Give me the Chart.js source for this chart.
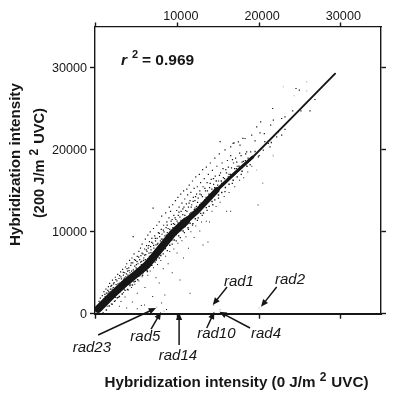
<!DOCTYPE html>
<html>
<head>
<meta charset="utf-8">
<style>
  html, body { margin: 0; padding: 0; background: #fff; }
  canvas { display: block; }
</style>
<script src="https://cdn.jsdelivr.net/npm/chart.js@4/dist/chart.umd.min.js"></script>
</head>
<body>
<canvas id="chart" width="400" height="400"></canvas>
<script>
// tick values, -200 is only the stub where the axes overshoot the corner
const xTickValues = [-200, 10000, 20000, 30000];
const yTickValues = [0, 10000, 20000, 30000];

// fitted line and dense part of the band
const fitX = [200, 3500, 9400, 14800, 19200, 24000, 29350];
const fitY = [600, 3750, 9700, 15000, 19100, 23900, 29300];
const thickX = [185, 1900, 3500, 6200, 7690, 9400, 11000];
const thickY = [575, 2280, 3750, 5940, 7770, 9850, 11300];
const mediumX = [11000, 12360, 14800];
const mediumY = [11300, 12500, 15100];
const thinX = [14800, 17000, 19200];
const thinY = [15100, 17170, 19120];

// cloud above the band
const upperLow = [[300,1500],[450,1900],[600,1300],[700,2200],[850,1750],[900,2700],[1050,2100],[1150,3000],[1200,2500],[1300,1900],[1450,3300],[1500,2700],[1600,3700],[1700,3000],[1800,2650],[1850,3450],[1950,4100],[2050,3200],[2150,3800],[2250,3100],[2300,4450],[2400,3550],[2500,4000],[2600,4800],[2700,3400],[2750,4300],[2850,3750],[2950,5100],[3000,4500],[3100,3900],[3200,5400],[3300,4700],[3350,4200],[3450,5000],[3550,5700],[3600,4500],[3700,6100],[3800,5200],[3850,4700],[3950,5600],[4050,6500],[4100,5000],[4200,5900],[4300,5200],[4350,6800],[4450,6200],[4500,9400],[4600,7300],[4700,5800],[4800,6500],[4900,6000],[5000,7000]];
const upperMid = [[5100,6100],[5200,7600],[5300,6600],[5400,8000],[5450,7100],[5550,6400],[5600,8500],[5700,7300],[5800,6800],[5900,7900],[6000,9100],[6050,7200],[6150,8300],[6200,7600],[6300,9600],[6350,8000],[6450,7400],[6500,8800],[6600,10000],[6650,8200],[6700,7800],[6800,9200],[6900,8600],[6950,12900],[7000,10400],[7050,8000],[7150,9500],[7250,8900],[7300,8400],[7400,10800],[7450,9200],[7550,8600],[7600,9900],[7700,11200],[7750,9400],[7850,8900],[7950,10300],[8000,11900],[8050,9700],[8150,9100],[8250,10800],[8300,10000],[8400,9500],[8500,12300],[8550,10500],[8650,11200],[8700,9900],[8800,10400],[8900,11700],[8950,13000],[9000,10300],[9100,12500],[9200,10900],[9300,11500],[9350,13300],[9450,11000],[9500,12000],[9600,10900],[9700,13800],[9750,11500],[9850,12600],[9900,11300],[10000,14200],[10050,12000],[10150,13000],[10250,11800],[10350,14600],[10400,12500],[10500,13500],[10600,12100]];
const upperHigh = [[10700,15000],[10750,13000],[10850,14000],[10950,12600],[11050,13400],[11100,15200],[11200,14500],[11300,13000],[11400,15700],[11500,13800],[11600,14800],[11700,13300],[11800,16200],[11900,14200],[12000,15300],[12100,13800],[12200,16700],[12300,14600],[12400,15500],[12500,14100],[12650,17000],[12700,15000],[12800,16000],[12900,14500],[13050,17600],[13100,15500],[13250,16500],[13400,15000],[13500,17900],[13600,16000],[13750,17000],[13900,15400],[14000,18400],[14100,16400],[14250,17500],[14400,15800],[14550,19000],[14600,16800],[14800,18000],[15000,16200],[15100,19500],[15200,21000],[15250,17200],[15450,18400],[15600,16600],[15800,20000],[15900,17600],[16100,18700],[16300,17000],[16500,19300],[16600,17800],[16800,20800],[16850,18400],[17100,19000],[17300,18000],[17600,19600],[17900,18500],[18000,21400]];
// extra dots close over the band, where the picture is densest
const upperDense = [[420,1250],[780,1500],[1020,2350],[1240,1700],[1380,2850],[1620,2250],[1760,3350],[1930,2550],[2080,3650],[2210,2850],[2370,4150],[2460,3050],[2640,3650],[2830,4650],[2910,3350],[3060,4250],[3170,3550],[3280,5050],[3420,4350],[3530,3950],[3670,4850],[3740,5500],[3910,4200],[3990,5250],[4130,4450],[4260,6200],[4380,4700],[4520,5350],[4660,6600],[4740,5050],[4860,5600],[4970,6350],[5060,5300],[5170,6900],[5330,5700],[5420,6300],[5590,7400],[5640,5900],[5780,6500],[5910,7150],[6030,6250],[6120,7800],[6280,6700],[6420,8300],[6530,6800],[6680,7450],[6780,8700],[6860,7050],[7020,8350],[7110,7350],[7230,9200],[7380,7900],[7480,8500],[7620,8000],[7720,9800],[7830,8350],[7980,9100],[8090,8400],[8210,10200],[8340,9000],[8430,8800],[8580,9600],[8690,10800],[8810,9300],[8920,9150],[9060,10000],[9170,11300],[9280,9900],[9390,10500],[9540,10100],[9660,11700],[9790,10600],[9880,10200],[10020,11100],[10130,12400],[10270,10900],[10390,11400],[10480,10600],[10620,12800],[10730,11400],[10860,12000],[10980,11200],[11120,12500],[11260,11800],[11380,13500],[11470,12200],[11640,13000],[11760,12400],[11880,13700],[12020,12700],[12170,14300],[12290,13100],[12430,13600],[12560,12900],[12720,14600],[12860,13500],[13020,14300],[13170,13600],[13320,15300],[13480,14200],[13640,15000],[13820,14600],[13980,15900],[14180,15200],[14380,16500],[14520,15400],[14720,16200],[14900,15700],[15120,16900],[15340,16200],[15560,17700],[15740,16500],[15980,17200],[16220,17900],[16480,17000],[16720,18800],[16980,17700],[17250,18500],[17520,18000],[17780,19300],[18060,18600],[18340,19500],[18640,19000]];
// rough lower edge of the dense band
const lowerEdge = [[800,100],[1200,450],[1550,950],[1900,1150],[2200,1500],[2550,1950],[2800,2100],[3150,2400],[3500,2850],[3800,2950],[4100,3450],[4400,3500],[4750,3950],[5050,4150],[5300,4650],[5650,4700],[5950,5300],[6250,5150],[6500,5950],[6800,5900],[7050,6500],[7350,6550],[7600,7150],[7900,7100],[8150,7800],[8450,7950],[8700,8400],[9000,8350],[9250,9000],[9550,9000],[9800,9650],[10100,9500],[10350,10150],[10650,10100],[10900,10650],[11250,10500],[11500,11050],[11850,11000],[12150,11600],[12500,11700],[12800,12250],[13150,12300],[13500,12950],[13850,13100],[14200,13700],[14550,13900],[15000,14500],[15400,14800],[15850,15400],[16300,15800],[16800,16300],[17300,16700],[17900,17400],[18500,18000]];
// sparse tail towards the top of the line
const tail = [[24540,27490],[24950,27290],[21670,25050],[26260,24760],[26875,26150],[24130,24760],[25150,24760],[22775,23830],[23185,24030],[21750,23620],[21420,23010],[20190,23420],[19700,22810],[20640,21990],[20110,22080],[18265,21390],[17445,20980],[16910,20860],[16500,20370],[17650,20570],[19085,21800],[19500,21100],[18470,19760],[18960,19760],[19905,19150],[22365,22200],[23185,22490],[22775,21790],[22160,21590],[21135,20780],[21340,20370],[20520,19960]];
const faintDots = [[22980,27700],[25850,28300],[25850,27200],[24290,26600],[21750,19230],[19700,17520],[21700,19370],[14400,1000],[15200,500],[20000,700],[7400,800],[8300,300],[13000,-100]];
// below the band, including the far outliers
const lower = [[1300,900],[1800,1200],[2300,1600],[2700,2000],[3000,1500],[3500,2050],[3300,2600],[3900,2900],[4400,1430],[4300,3200],[4700,3600],[5000,2500],[5200,4000],[5600,4500],[5900,1060],[5950,3200],[6300,4700],[6600,5200],[6900,2100],[7000,5600],[7300,4400],[7500,6000],[7700,3750],[7900,6500],[8200,5500],[8400,2280],[8500,7000],[8800,6100],[9000,7600],[9300,5000],[9500,7900],[9900,7400],[10000,8600],[10250,4120],[10500,8900],[10700,6800],[11000,9400],[11300,8000],[11500,2500],[11600,10000],[12000,9300],[12200,10700],[12700,10100],[12900,11200],[13100,8400],[13500,11300],[13700,8750],[13900,11200],[14200,12500],[14700,13100],[15200,13600],[15700,14300],[16000,12500],[16500,12500],[16300,14800],[17000,15500],[17600,16300],[18100,16600],[18600,17300],[19100,18000],[19870,13260],[20450,15940],[2800,900],[3700,700],[5000,600],[5500,1000],[6500,500],[8000,1300],[8600,500],[-100,-300]];
// dots hugging the dense band
const fringe = [[500,1100],[1000,1600],[1400,2500],[1900,3000],[2300,2000],[2500,3300],[2900,2700],[3200,3900],[3400,3000],[3900,4500],[4100,3600],[4500,4900],[4600,3900],[5000,5500],[5200,4600],[5500,6000],[5700,5000],[6000,6600],[6200,5300],[6500,7000],[6700,5900],[7000,7500],[7200,6300],[7500,8100],[7700,6800],[8000,8700],[8200,7300],[8500,9200],[8700,7700],[9000,9700],[9300,8500],[9600,10300],[9800,8900],[10100,10800],[10300,9300],[10600,11200],[10800,9900],[11100,11800],[11300,10300],[11600,12300],[11800,10800],[12100,12900],[12400,11400],[12700,13300],[13000,12000],[13300,13900],[13600,12600],[13900,14500],[14300,13300],[14600,15300],[15000,14100],[15400,15900],[15800,14900],[16200,16700],[16700,15900],[17200,17700],[17800,17000],[18300,18700],[18900,18200],[19500,19800],[20000,19300],[20700,21000],[21500,20900]];

// gene labels and their arrows, tail and tip in data values
const geneNames = ['rad23', 'rad5', 'rad14', 'rad1', 'rad2', 'rad10', 'rad4'];
const geneLabelX = [-2950, 4150, 7640, 15670, 21950, 12370, 19000];
const geneLabelY = [-4150, -2800, -5100, 3900, 4100, -2500, -2500];
const arrowTailX = [185, 6700, 10150, 16050, 22160, 13550, 18880];
const arrowTailY = [-2600, -1870, -3820, 3260, 3260, -1745, -1745];
const arrowTipX = [7320, 7930, 10150, 14290, 20230, 14490, 15100];
const arrowTipY = [695, 210, 120, 1060, 850, 245, 245];

const ink = '#161616';
const sansName = '"Liberation Sans", Arial, sans-serif';

function cloud(points, color, radius) {
  return {
    data: points.map((p) => ({ x: p[0], y: p[1] })),
    backgroundColor: color,
    borderWidth: 0,
    pointRadius: radius,
    pointStyle: 'rect',
  };
}

function band(xs, ys, width) {
  return {
    data: xs.map((x, i) => ({ x: x, y: ys[i] })),
    showLine: true,
    borderColor: ink,
    borderWidth: width,
    borderCapStyle: 'round',
    pointRadius: 0,
  };
}

// run of text with raised 2's, written along the current x direction
function drawRuns(ctx, runs, font, supFont) {
  runs.forEach((run) => {
    if (run === '2') {
      ctx.font = supFont;
      ctx.fillText('2', 0, -5);
      ctx.translate(ctx.measureText('2').width + 5, 0);
    } else {
      ctx.font = font;
      ctx.fillText(run, 0, 0);
      ctx.translate(ctx.measureText(run).width, 0);
    }
  });
}

const annotations = {
  id: 'annotations',
  afterDraw(chart) {
    const ctx = chart.ctx;
    const sx = chart.scales.x;
    const sy = chart.scales.y;
    ctx.save();
    ctx.fillStyle = ink;
    ctx.strokeStyle = ink;
    ctx.textBaseline = 'middle';
    ctx.textAlign = 'left';

    // arrows
    geneNames.forEach((name, i) => {
      const x0 = sx.getPixelForValue(arrowTailX[i]);
      const y0 = sy.getPixelForValue(arrowTailY[i]);
      const x1 = sx.getPixelForValue(arrowTipX[i]);
      const y1 = sy.getPixelForValue(arrowTipY[i]);
      const a = Math.atan2(y1 - y0, x1 - x0);
      ctx.lineWidth = 1.5;
      ctx.beginPath();
      ctx.moveTo(x0, y0);
      ctx.lineTo(x1 - 4 * Math.cos(a), y1 - 4 * Math.sin(a));
      ctx.stroke();
      ctx.beginPath();
      ctx.moveTo(x1, y1);
      ctx.lineTo(x1 - 8 * Math.cos(a - 0.4), y1 - 8 * Math.sin(a - 0.4));
      ctx.lineTo(x1 - 8 * Math.cos(a + 0.4), y1 - 8 * Math.sin(a + 0.4));
      ctx.closePath();
      ctx.fill();

      ctx.font = 'italic 15px ' + sansName;
      ctx.fillText(name, sx.getPixelForValue(geneLabelX[i]), sy.getPixelForValue(geneLabelY[i]));
    });

    // r squared note
    ctx.save();
    ctx.translate(121, 61);
    ctx.font = 'italic bold 15.5px ' + sansName;
    ctx.fillText('r', 0, 0);
    ctx.font = 'bold 11px ' + sansName;
    ctx.fillText('2', 11, -6);
    ctx.font = 'bold 15.5px ' + sansName;
    ctx.fillText('= 0.969', 21, 0);
    ctx.restore();

    const titleFont = 'bold 15.2px ' + sansName;
    const supFont = 'bold 12px ' + sansName;

    // bottom title
    ctx.save();
    ctx.translate(104.5, 383);
    drawRuns(ctx, ['Hybridization intensity (0 J/m ', '2', 'UVC)'], titleFont, supFont);
    ctx.restore();

    // left titles
    ctx.save();
    ctx.translate(16, 246);
    ctx.rotate(-Math.PI / 2);
    drawRuns(ctx, ['Hybridization intensity'], titleFont, supFont);
    ctx.restore();
    ctx.save();
    ctx.translate(39.5, 218);
    ctx.rotate(-Math.PI / 2);
    drawRuns(ctx, ['(200 J/m ', '2', 'UVC)'], 'bold 14.6px ' + sansName, supFont);
    ctx.restore();

    ctx.restore();
  },
};

function axisGrid(length) {
  return { drawOnChartArea: false, drawTicks: true, tickLength: length, tickColor: ink, tickWidth: 1.4 };
}

const tickFont = { family: sansName, size: 12.6 };

function fixedTicks(values) {
  return (scale) => { scale.ticks = values.map((v) => ({ value: v })); };
}

new Chart(document.getElementById('chart'), {
  type: 'scatter',
  data: {
    datasets: [
      cloud(faintDots, '#b5b5b5', 0.8),
      cloud(upperLow, ink, 0.85),
      cloud(upperMid, ink, 0.85),
      cloud(upperHigh, ink, 0.85),
      cloud(upperDense, ink, 0.9),
      cloud(lowerEdge, ink, 1),
      cloud(tail, ink, 0.85),
      cloud(lower, ink, 0.7),
      cloud(fringe, ink, 0.9),
      band(thickX, thickY, 7.5),
      band(mediumX, mediumY, 5.5),
      band(thinX, thinY, 3.2),
      band(fitX, fitY, 1.9),
    ],
  },
  plugins: [annotations],
  options: {
    responsive: false,
    animation: false,
    layout: { padding: 0 },
    plugins: { legend: { display: false }, tooltip: { enabled: false } },
    scales: {
      x: {
        type: 'linear', position: 'bottom', min: -200, max: 35000,
        afterBuildTicks: fixedTicks(xTickValues),
        afterFit: (s) => { s.height = 86.3; },
        border: { color: ink, width: 2 },
        grid: axisGrid(5),
        ticks: { callback: () => '', font: tickFont },
      },
      xTop: {
        type: 'linear', position: 'top', min: -200, max: 35000,
        afterBuildTicks: fixedTicks(xTickValues),
        afterFit: (s) => { s.height = 27; },
        border: { color: ink, width: 1.3 },
        grid: axisGrid(4.5),
        ticks: { color: ink, font: tickFont, padding: -2, labelOffset: 3, maxRotation: 0, callback: (v) => (v > 0 ? String(v) : '') },
      },
      y: {
        type: 'linear', position: 'left', min: 0, max: 35000,
        afterBuildTicks: fixedTicks(yTickValues),
        afterFit: (s) => { s.width = 95; },
        border: { color: ink, width: 1.4 },
        grid: axisGrid(5),
        ticks: { color: ink, font: tickFont, padding: 3, labelOffset: 1, callback: (v) => String(v) },
      },
      yRight: {
        type: 'linear', position: 'right', min: 0, max: 35000,
        afterBuildTicks: fixedTicks(yTickValues),
        afterFit: (s) => { s.width = 19; },
        border: { color: ink, width: 1.4 },
        grid: axisGrid(5),
        ticks: { callback: () => '', font: tickFont },
      },
    },
  },
});
</script>
</body>
</html>
